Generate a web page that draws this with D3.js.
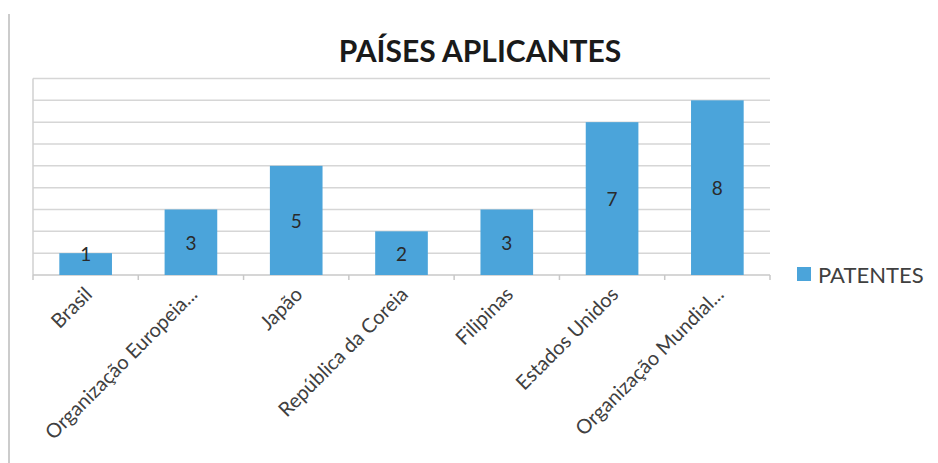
<!DOCTYPE html>
<html><head><meta charset="utf-8">
<script src="https://cdn.jsdelivr.net/npm/d3@7/dist/d3.min.js"></script>
<style>body{margin:0;background:#fff}svg{display:block}</style>
</head><body>
<script>
const categories = ["Brasil","Organização Europeia...","Japão","República da Coreia","Filipinas","Estados Unidos","Organização Mundial..."];
const values = [1,3,5,2,3,7,8];
const seriesName = "PATENTES";
const title = "PAÍSES APLICANTES";
const yTicks = [0,1,2,3,4,5,6,7,8,9];

const W = 938, H = 463;
const font = "Lato, 'Open Sans', sans-serif";
const svg = d3.select("body").append("svg").attr("width", W).attr("height", H);

svg.append("line").attr("x1",9).attr("x2",9).attr("y1",14).attr("y2",H)
  .attr("stroke","#cccccc").attr("stroke-width",2);

const x = d3.scaleBand().domain(categories).range([33, 770]).paddingInner(0.5).paddingOuter(0.25);
const y = d3.scaleLinear().domain([0, 9]).range([275, 78.5]);

svg.append("g").selectAll("line").data(yTicks.slice(1)).join("line")
  .attr("x1",33).attr("x2",770).attr("y1",d=>y(d)).attr("y2",d=>y(d))
  .attr("stroke","#d6d6d6").attr("stroke-width",1.5);

svg.append("line").attr("x1",33).attr("x2",33).attr("y1",y(9)).attr("y2",y(0))
  .attr("stroke","#d0d0d0").attr("stroke-width",1.5);

const step = x.step();
const bounds = d3.range(categories.length + 1).map(i => 33 + i * step);
svg.append("line").attr("x1",33).attr("x2",770).attr("y1",y(0)).attr("y2",y(0))
  .attr("stroke","#c8c8c8").attr("stroke-width",1.5);
svg.append("g").selectAll("line").data(bounds).join("line")
  .attr("x1",d=>d).attr("x2",d=>d).attr("y1",y(0)).attr("y2",y(0)+5)
  .attr("stroke","#c8c8c8").attr("stroke-width",1.5);

svg.append("g").selectAll("rect").data(values).join("rect")
  .attr("x",(d,i)=>x(categories[i])).attr("width",x.bandwidth())
  .attr("y",d=>y(d)).attr("height",d=>y(0)-y(d))
  .attr("fill","#4ba4da");

svg.append("g").selectAll("text").data(values).join("text")
  .attr("x",(d,i)=>x(categories[i])+x.bandwidth()/2)
  .attr("y",d=>Math.min((y(d)+y(0))/2, y(0)-22))
  .attr("text-anchor","middle").attr("dominant-baseline","central")
  .attr("font-family",font).attr("font-size",19).attr("fill","#2a2a2a")
  .text(d=>d);

svg.append("g").selectAll("text").data(categories).join("text")
  .attr("transform",d=>`translate(${x(d)+x.bandwidth()/2+2},${y(0)+15}) rotate(-45)`)
  .attr("text-anchor","end").attr("dominant-baseline","central")
  .attr("font-family",font).attr("font-size",20).attr("fill","#404040")
  .text(d=>d);

svg.append("text").attr("x",480).attr("y",62).attr("text-anchor","middle")
  .attr("font-family",font).attr("font-weight","bold").attr("font-size",30).attr("fill","#1a1a1a")
  .text(title);

svg.append("rect").attr("x",797).attr("y",267).attr("width",14).attr("height",14).attr("fill","#4ba4da");
svg.append("text").attr("x",818).attr("y",274).attr("dominant-baseline","central")
  .attr("font-family",font).attr("font-size",22).attr("fill","#404040").text(seriesName);
</script>
</body></html>
